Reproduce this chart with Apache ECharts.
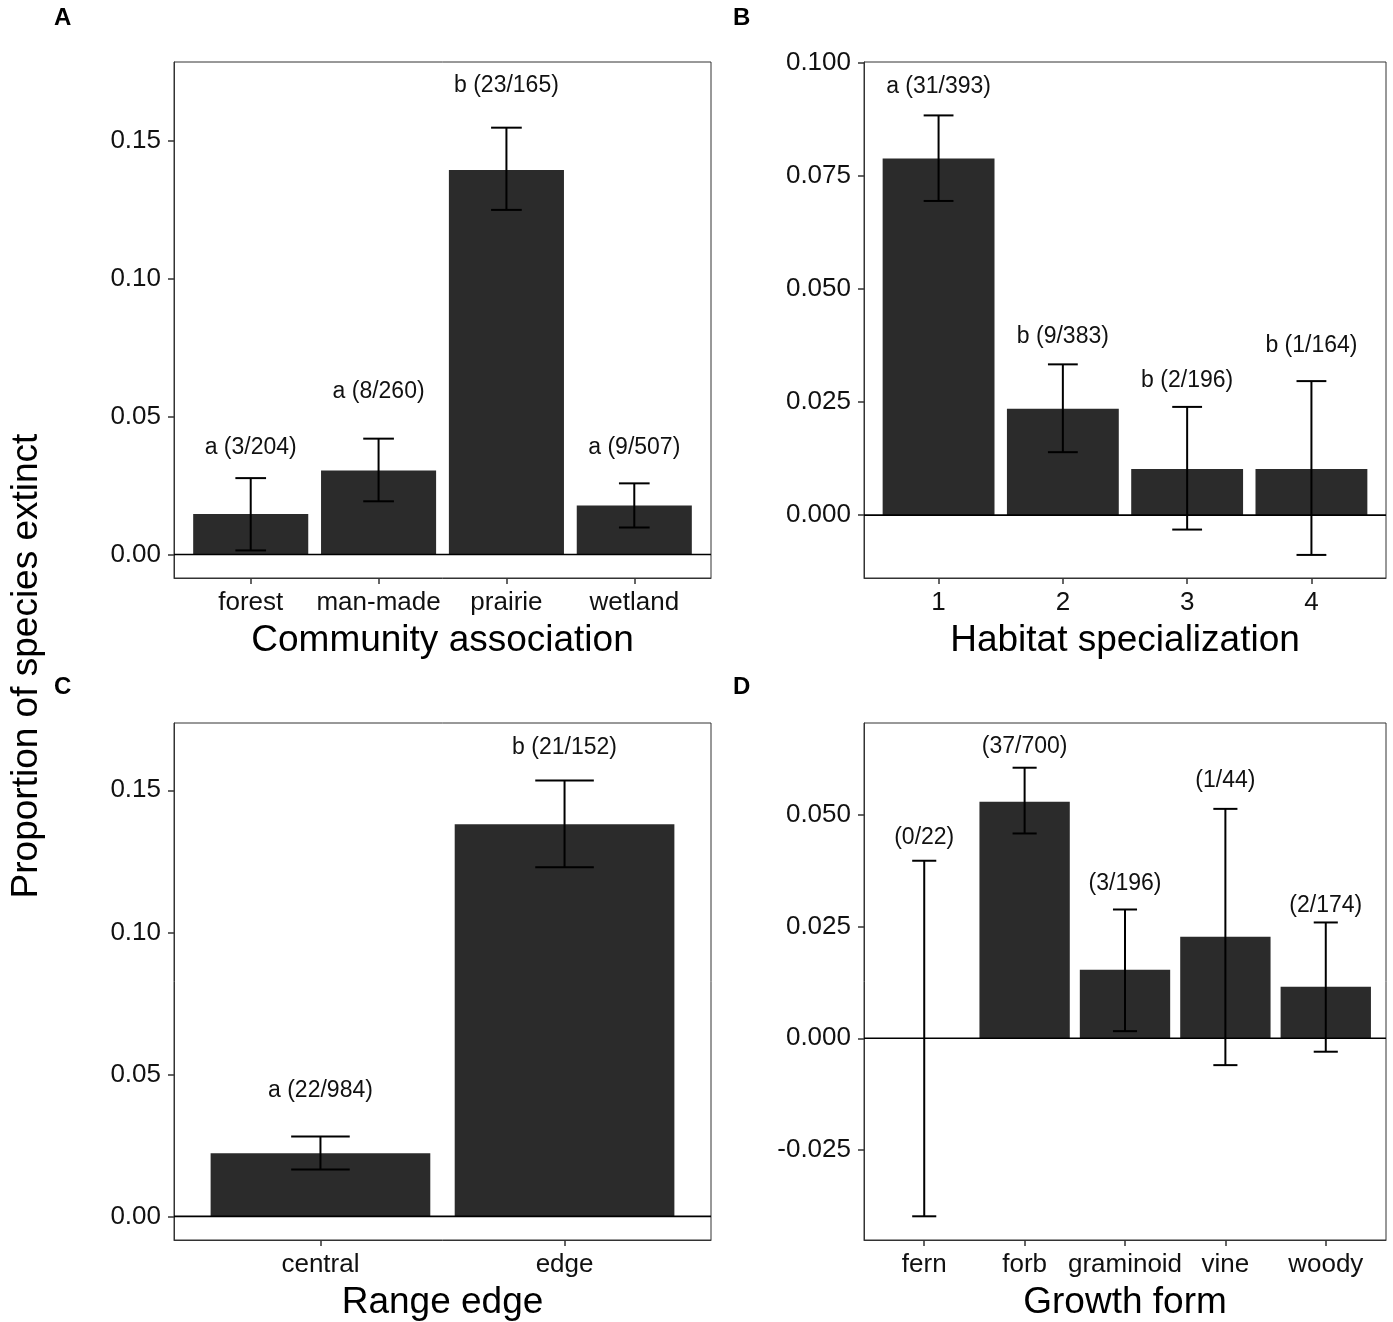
<!DOCTYPE html>
<html>
<head>
<meta charset="utf-8">
<title>Proportion of species extinct</title>
<script src="https://cdn.jsdelivr.net/npm/echarts@6/dist/echarts.min.js"></script>
<style>
    html, body { margin: 0; padding: 0; background: #fff; }
    #main { width: 1393px; height: 1322px; }
</style>
</head>
<body>
<div id="main"></div>
<script>
"use strict"

// A 群落类型
const catA = ["forest", "man-made", "prairie", "wetland"];
const meanA = [0.0147, 0.0305, 0.1394, 0.0178];
const lowA = [0.0015, 0.0193, 0.1249, 0.0098];
const highA = [0.0277, 0.0420, 0.1547, 0.0258];
const textA = ["a (3/204)", "a (8/260)", "b (23/165)", "a (9/507)"];
const textYA = [0.0389, 0.0592, 0.1699, 0.0389];
const ticksA = [0, 0.05, 0.10, 0.15];

// B 生境特化
const catB = ["1", "2", "3", "4"];
const meanB = [0.0788, 0.0235, 0.0102, 0.0102];
const lowB = [0.0694, 0.0139, -0.0032, -0.0088];
const highB = [0.0883, 0.0333, 0.0239, 0.0296];
const textB = ["a (31/393)", "b (9/383)", "b (2/196)", "b (1/164)"];
const textYB = [0.0947, 0.0395, 0.0296, 0.0375];
const ticksB = [0, 0.025, 0.05, 0.075, 0.1];

// C 分布边缘
const catC = ["central", "edge"];
const meanC = [0.0222, 0.1381];
const lowC = [0.0165, 0.1229];
const highC = [0.0281, 0.1535];
const textC = ["a (22/984)", "b (21/152)"];
const textYC = [0.0443, 0.1650];
const ticksC = [0, 0.05, 0.10, 0.15];

// D 生长型
const catD = ["fern", "forb", "graminoid", "vine", "woody"];
const meanD = [0, 0.0529, 0.0153, 0.0227, 0.0115];
const lowD = [-0.0398, 0.0458, 0.0016, -0.0060, -0.0030];
const highD = [0.0397, 0.0605, 0.0288, 0.0513, 0.0259];
const textD = ["(0/22)", "(37/700)", "(3/196)", "(1/44)", "(2/174)"];
const textYD = [0.0449, 0.0652, 0.0346, 0.0576, 0.0297];
const ticksD = [-0.025, 0, 0.025, 0.05];

const FONT = "'Liberation Sans', Arial, sans-serif";

document.addEventListener("DOMContentLoaded", function () {
    const panels = [
        { cats: catA, mean: meanA, low: lowA, high: highA, text: textA, textY: textYA, ticks: ticksA,
          yMin: -0.0085, yMax: 0.1785, dec: 2, title: "Community association", box: [174, 62, 537, 516] },
        { cats: catB, mean: meanB, low: lowB, high: highB, text: textB, textY: textYB, ticks: ticksB,
          yMin: -0.0139, yMax: 0.1001, dec: 3, title: "Habitat specialization", box: [864, 62, 522, 516] },
        { cats: catC, mean: meanC, low: lowC, high: highC, text: textC, textY: textYC, ticks: ticksC,
          yMin: -0.0083, yMax: 0.1737, dec: 2, title: "Range edge", box: [174, 723, 537, 518] },
        { cats: catD, mean: meanD, low: lowD, high: highD, text: textD, textY: textYD, ticks: ticksD,
          yMin: -0.0451, yMax: 0.0705, dec: 3, title: "Growth form", box: [864, 723, 522, 518] }
    ];

    const grid = [], xAxis = [], yAxis = [], series = [];

    panels.forEach(function (p, i) {
        const n = p.cats.length;
        const xs = p.cats.map((c, j) => j + 1);

        grid.push({
            left: p.box[0], top: p.box[1], width: p.box[2], height: p.box[3],
            show: true, borderColor: "#333", borderWidth: 1, backgroundColor: "transparent"
        });

        xAxis.push({
            type: "value", gridIndex: i, min: 0.4, max: n + 0.6,
            axisLine: { show: true, onZero: false, lineStyle: { color: "#333", width: 1 } },
            axisTick: { show: true, length: 6, customValues: xs, lineStyle: { color: "#333", width: 1.5 } },
            axisLabel: {
                customValues: xs, margin: 12, fontSize: 26, color: "#111", fontFamily: FONT,
                formatter: v => p.cats[Math.round(v) - 1]
            },
            splitLine: { show: false },
            name: p.title, nameLocation: "middle", nameGap: 44,
            nameTextStyle: { fontSize: 37, color: "#000", fontFamily: FONT }
        });

        yAxis.push({
            type: "value", gridIndex: i, min: p.yMin, max: p.yMax,
            axisLine: { show: true, onZero: false, lineStyle: { color: "#333", width: 1 } },
            axisTick: { show: true, length: 6, customValues: p.ticks, lineStyle: { color: "#333", width: 1.5 } },
            axisLabel: {
                customValues: p.ticks, margin: 13, fontSize: 26, color: "#111", fontFamily: FONT,
                formatter: v => v.toFixed(p.dec)
            },
            splitLine: { show: false }
        });

        // 柱子
        series.push({
            type: "custom", xAxisIndex: i, yAxisIndex: i, z: 2, silent: true,
            data: p.mean.map((v, j) => [j + 1, v]),
            renderItem: function (params, api) {
                const x = api.value(0);
                const a = api.coord([x - 0.45, 0]);
                const b = api.coord([x + 0.45, api.value(1)]);
                return {
                    type: "rect",
                    shape: { x: a[0], y: Math.min(a[1], b[1]), width: b[0] - a[0], height: Math.abs(a[1] - b[1]) },
                    style: { fill: "#2b2b2b" }
                };
            }
        });

        // 零线
        series.push({
            type: "line", xAxisIndex: i, yAxisIndex: i, z: 3, silent: true,
            symbol: "none", data: [[0.4, 0], [n + 0.6, 0]],
            lineStyle: { color: "#000", width: 1.6 }
        });

        // 误差线
        series.push({
            type: "custom", xAxisIndex: i, yAxisIndex: i, z: 4, silent: true,
            data: p.low.map((lo, j) => [j + 1, lo, p.high[j]]),
            renderItem: function (params, api) {
                const x = api.value(0);
                const lo = api.coord([x, api.value(1)]);
                const hi = api.coord([x, api.value(2)]);
                const w = api.size([0.24, 0])[0] / 2;
                const st = { stroke: "#000", lineWidth: 2 };
                return {
                    type: "group",
                    children: [
                        { type: "line", shape: { x1: lo[0], y1: lo[1], x2: hi[0], y2: hi[1] }, style: st },
                        { type: "line", shape: { x1: lo[0] - w, y1: lo[1], x2: lo[0] + w, y2: lo[1] }, style: st },
                        { type: "line", shape: { x1: hi[0] - w, y1: hi[1], x2: hi[0] + w, y2: hi[1] }, style: st }
                    ]
                };
            }
        });

        // 标注文字
        series.push({
            type: "custom", xAxisIndex: i, yAxisIndex: i, z: 5, silent: true,
            data: p.textY.map((v, j) => [j + 1, v]),
            renderItem: function (params, api) {
                const pt = api.coord([api.value(0), api.value(1)]);
                return {
                    type: "text", x: pt[0], y: pt[1],
                    style: {
                        text: p.text[params.dataIndex], fill: "#111",
                        fontSize: 23, fontFamily: FONT, align: "center", verticalAlign: "middle"
                    }
                };
            }
        });
    });

    const letterStyle = { fill: "#000", fontSize: 24, fontWeight: "bold", fontFamily: FONT };
    const graphic = [
        { type: "text", x: 54, y: 6, style: Object.assign({ text: "A" }, letterStyle) },
        { type: "text", x: 733, y: 6, style: Object.assign({ text: "B" }, letterStyle) },
        { type: "text", x: 54, y: 675, style: Object.assign({ text: "C" }, letterStyle) },
        { type: "text", x: 733, y: 675, style: Object.assign({ text: "D" }, letterStyle) },
        {
            type: "text", x: 27, y: 666, rotation: Math.PI / 2,
            style: { text: "Proportion of species extinct", fill: "#000", fontSize: 37, fontFamily: FONT,
                     align: "center", verticalAlign: "middle" }
        }
    ];

    const myChart = echarts.init(document.getElementById("main"), null, { renderer: "canvas" });
    myChart.setOption({
        animation: false,
        backgroundColor: "#fff",
        grid: grid,
        xAxis: xAxis,
        yAxis: yAxis,
        series: series,
        graphic: graphic
    });
});
</script>
</body>
</html>
